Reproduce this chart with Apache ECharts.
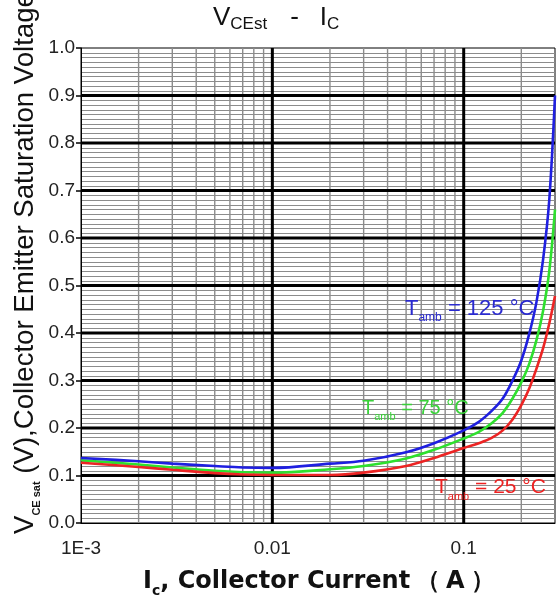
<!DOCTYPE html>
<html>
<head>
<meta charset="utf-8">
<script src="https://cdn.jsdelivr.net/npm/echarts@6/dist/echarts.min.js"></script>
<style>
html,body{margin:0;padding:0;background:#fff;}
#chart{width:560px;height:606px;}
</style>
</head>
<body>
<div id="chart"></div>
<script>
// ---- data ----
const current = [0.001, 0.002, 0.003, 0.005, 0.007, 0.01, 0.02, 0.03, 0.05, 0.07, 0.1, 0.12, 0.14, 0.16, 0.18, 0.2, 0.22, 0.24, 0.26, 0.28, 0.3];
const vsat25  = [0.127, 0.118, 0.112, 0.105, 0.102, 0.101, 0.101, 0.106, 0.120, 0.137, 0.158, 0.168, 0.179, 0.195, 0.218, 0.248, 0.283, 0.325, 0.368, 0.420, 0.478];
const vsat75  = [0.132, 0.123, 0.117, 0.110, 0.107, 0.106, 0.113, 0.120, 0.136, 0.154, 0.178, 0.192, 0.210, 0.232, 0.262, 0.296, 0.335, 0.385, 0.447, 0.530, 0.660];
const vsat125 = [0.137, 0.130, 0.125, 0.120, 0.117, 0.116, 0.125, 0.131, 0.149, 0.168, 0.195, 0.213, 0.236, 0.262, 0.300, 0.342, 0.398, 0.465, 0.555, 0.680, 0.900];
const xTickValues = [0.001, 0.01, 0.1];
const xTickLabels = ['1E-3', '0.01', '0.1'];
const xMinorGrid = [0.002, 0.003, 0.004, 0.005, 0.006, 0.007, 0.008, 0.009,
                    0.02, 0.03, 0.04, 0.05, 0.06, 0.07, 0.08, 0.09, 0.2];
const xMajorGrid = [0.01, 0.1];
const yMajorGrid = [0.1, 0.2, 0.3, 0.4, 0.5, 0.6, 0.7, 0.8, 0.9];
const xMin = 0.001, xMax = 0.3, yMin = 0, yMax = 1;

const pairs = (ys) => current.map((x, i) => [x, ys[i]]);

const minorStyle = {color: '#8c8c8c', width: 1.4};
const majorStyle = {color: '#000', width: 3};
function gridSeries(data, style) {
  return {type: 'line', data: data, z: 1, silent: true, showSymbol: false, symbol: 'none',
          lineStyle: style, animation: false, clip: false};
}
const gridSeriesList = []
  .concat(xMinorGrid.map(v => gridSeries([[v, yMin], [v, yMax]], minorStyle)))
  .concat(yMajorGrid.map(v => gridSeries([[xMin, v], [xMax, v]], majorStyle)))
  .concat(xMajorGrid.map(v => gridSeries([[v, yMin], [v, yMax]], majorStyle)));

const chart = echarts.init(document.getElementById('chart'), null, {renderer: 'canvas'});
const tickFont = "'Liberation Sans', Arial, sans-serif";

function curve(name, ys, color, z) {
  return {type: 'line', name: name, data: pairs(ys), smooth: 0.35, showSymbol: false, symbol: 'none', z: z,
          lineStyle: {color: color, width: 2.6}};
}

chart.setOption({
  animation: false,
  backgroundColor: '#fff',
  grid: {left: 81, right: 5, top: 48, bottom: 83, show: true, borderColor: '#000', borderWidth: 1, backgroundColor: '#fff'},
  xAxis: {
    type: 'log', logBase: 10, min: xMin, max: xMax,
    axisLine: {show: true, lineStyle: {color: '#000', width: 1}},
    axisTick: {show: false},
    splitLine: {show: false},
    minorTick: {show: false},
    minorSplitLine: {show: false},
    axisLabel: {
      show: true, margin: 16, color: '#222', fontSize: 19, fontFamily: tickFont,
      showMinLabel: true, showMaxLabel: false,
      formatter: function (v) {
        for (let i = 0; i < xTickValues.length; i++) {
          if (Math.abs(Math.log10(v) - Math.log10(xTickValues[i])) < 1e-6) return xTickLabels[i];
        }
        return '';
      }
    }
  },
  yAxis: {
    type: 'value', min: yMin, max: yMax, interval: 0.1,
    axisLine: {show: true, lineStyle: {color: '#000', width: 1}},
    axisTick: {show: true, length: 5, lineStyle: {color: '#000', width: 1.5}},
    splitLine: {show: false},
    minorTick: {show: false, splitNumber: 10},
    minorSplitLine: {show: true, lineStyle: {color: '#8c8c8c', width: 1}},
    axisLabel: {margin: 6, color: '#222', fontSize: 19, fontFamily: tickFont, formatter: v => v.toFixed(1)}
  },
  series: gridSeriesList.concat([
    curve('75', vsat75, '#2ee02e', 3),
    curve('25', vsat25, '#ec2424', 4),
    curve('125', vsat125, '#1f1fe0', 5)
  ]),
  graphic: [
    {type: 'text', x: 213, y: 3, z: 10, style: {
      text: '{v|V}{s|CEst}{d|-}{v|I}{s|C}',
      fill: '#111', align: 'left', verticalAlign: 'top',
      rich: {
        v: {fontSize: 26, lineHeight: 30, fontFamily: 'Liberation Sans, Arial', fill: '#111'},
        d: {fontSize: 26, lineHeight: 30, fontFamily: 'Liberation Sans, Arial', fill: '#111', padding: [0, 21, 0, 23]},
        s: {fontSize: 17, lineHeight: 17, verticalAlign: 'bottom', fontFamily: 'Liberation Sans, Arial', fill: '#111'}
      }
    }},
    {type: 'text', x: 25, y: 534, rotation: Math.PI / 2, z: 10, style: {
      text: '{v|V}{s|CE sat}{v| (V),Collector Emitter Saturation Voltage}',
      fill: '#111', align: 'left', verticalAlign: 'middle',
      rich: {
        v: {fontSize: 27.6, lineHeight: 34, fontFamily: 'Liberation Sans, Arial', fill: '#111'},
        s: {fontSize: 11, lineHeight: 11, verticalAlign: 'bottom', fontFamily: 'Liberation Sans, Arial', fontWeight: 'bold', fill: '#111'}
      }
    }},
    {type: 'text', x: 143, y: 566, z: 10, style: {
      text: '{m|I}{s|c}{m|, Collector Current}{p|（}{m|A}{p|）}',
      fill: '#111', align: 'left', verticalAlign: 'top',
      rich: {
        m: {fontSize: 24, lineHeight: 32, fontFamily: 'DejaVu Sans', fontWeight: 'bold', fill: '#111'},
        p: {fontSize: 24, lineHeight: 32, fontFamily: 'DejaVu Sans', fontWeight: 'bold', fill: '#111', padding: [0, 6, 0, 6]},
        s: {fontSize: 14, lineHeight: 14, verticalAlign: 'bottom', fontFamily: 'DejaVu Sans', fontWeight: 'bold', fill: '#111'}
      }
    }},
    {type: 'text', x: 405, y: 294, z: 10, style: {
      text: '{m|T}{s|amb}{m| = 125 °C}', align: 'left', verticalAlign: 'top',
      rich: {
        m: {fontSize: 22, lineHeight: 30, fontFamily: 'Liberation Sans, Arial', fill: '#2a2ad0'},
        s: {fontSize: 12, lineHeight: 12, verticalAlign: 'bottom', fontFamily: 'Liberation Sans, Arial', fill: '#2a2ad0'}
      }
    }},
    {type: 'text', x: 362, y: 394, z: 10, style: {
      text: '{m|T}{s|amb}{m| = 75 °C}', align: 'left', verticalAlign: 'top',
      rich: {
        m: {fontSize: 20, lineHeight: 28, fontFamily: 'Liberation Sans, Arial', fill: '#3ad23a'},
        s: {fontSize: 11, lineHeight: 11, verticalAlign: 'bottom', fontFamily: 'Liberation Sans, Arial', fill: '#3ad23a'}
      }
    }},
    {type: 'text', x: 435, y: 473, z: 10, style: {
      text: '{m|T}{s|amb}{m| = 25 °C}', align: 'left', verticalAlign: 'top',
      rich: {
        m: {fontSize: 21, lineHeight: 29, fontFamily: 'Liberation Sans, Arial', fill: '#ee2222'},
        s: {fontSize: 11, lineHeight: 11, verticalAlign: 'bottom', fontFamily: 'Liberation Sans, Arial', fill: '#ee2222'}
      }
    }}
  ]
});
</script>
</body>
</html>
